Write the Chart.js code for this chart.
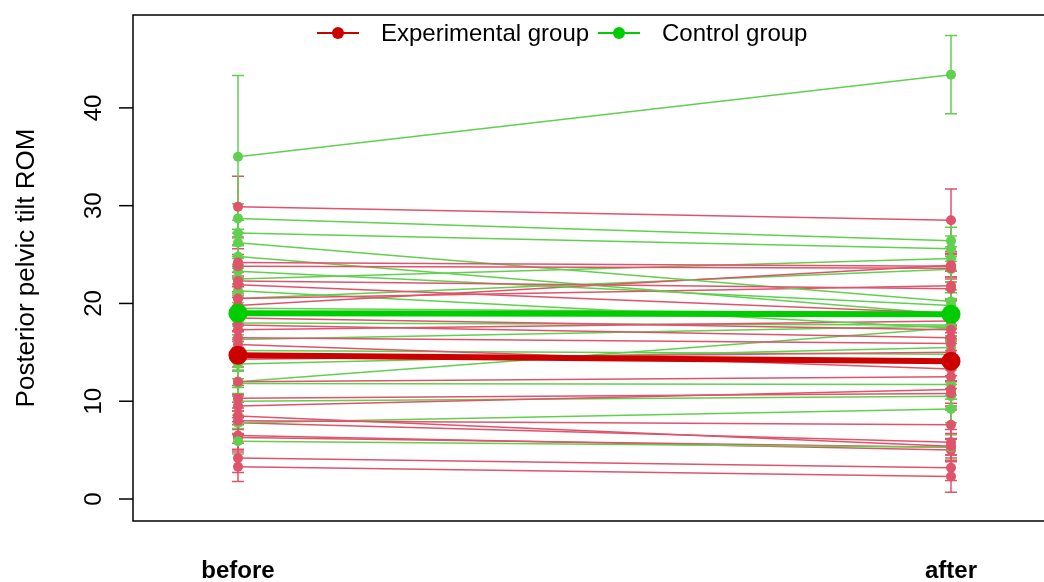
<!DOCTYPE html>
<html>
<head>
<meta charset="utf-8">
<script src="https://cdn.jsdelivr.net/npm/chart.js@4.4.1/dist/chart.umd.min.js"></script>
<style>
  html, body { margin: 0; padding: 0; background: #fff; overflow: hidden; }
  #wrap { width: 1044px; height: 582px; position: relative; }
  canvas { display: block; }
</style>
</head>
<body>
<div id="wrap"><canvas id="plot"></canvas></div>
<script>
// data
const timeLabels = ["before", "after"];
const groupNames = ["Experimental group", "Control group"];

const expBefore = [29.9, 24.2, 23.8, 22.3, 21.9, 20.5, 19.8, 18.5, 17.8, 17.3, 16.5, 15.8, 14.3, 12.0, 10.3, 9.5, 8.5, 8.0, 7.8, 6.5, 6.3, 4.2, 3.3];
const expAfter  = [28.5, 23.8, 23.6, 21.5, 19.0, 21.8, 23.9, 17.3, 16.5, 18.2, 15.9, 13.3, 15.0, 12.5, 10.8, 11.2, 5.4, 7.6, 5.8, 5.0, 5.3, 3.2, 2.3];
const expErrBefore = [3.1, 1.4, 1.2, 1.5, 1.3, 1.2, 1.4, 1.3, 1.5, 1.2, 1.4, 1.3, 1.2, 1.5, 1.3, 1.2, 1.4, 1.3, 1.2, 1.4, 1.3, 1.5, 1.5];
const expErrAfter  = [3.2, 1.3, 1.4, 1.2, 1.3, 1.5, 1.2, 1.4, 1.3, 1.2, 1.5, 1.3, 1.4, 1.2, 1.3, 1.4, 1.2, 1.5, 1.3, 1.2, 1.4, 1.3, 1.6];

const ctrlBefore = [35.0, 28.7, 27.2, 26.2, 24.8, 23.3, 22.5, 21.3, 20.5, 19.5, 18.0, 16.3, 15.2, 13.8, 12.0, 11.8, 10.0, 7.8, 5.9];
const ctrlAfter  = [43.4, 26.4, 25.6, 20.2, 18.9, 19.8, 24.6, 17.5, 23.5, 19.0, 17.8, 17.7, 14.8, 15.5, 17.5, 11.7, 10.5, 9.2, 5.3];
const ctrlErrBefore = [8.3, 1.5, 1.3, 1.4, 1.2, 1.3, 1.5, 1.2, 1.4, 1.3, 1.2, 1.4, 1.3, 1.5, 1.2, 1.3, 1.4, 1.2, 1.3];
const ctrlErrAfter  = [4.0, 1.4, 1.3, 1.2, 1.5, 1.3, 1.2, 1.4, 1.3, 1.5, 1.2, 1.3, 1.4, 1.2, 1.3, 1.5, 1.2, 1.4, 1.3];

const expMean = [14.7, 14.1];
const ctrlMean = [19.0, 18.9];

const yTicks = [0, 10, 20, 30, 40];

const expLine = "#DF536B", ctrlLine = "#61D04F";
const expMeanCol = "#CD0000", ctrlMeanCol = "#00CD00";

function pts(b, a) {
  return [{ x: 1, y: b }, { x: 2, y: a }];
}

let datasets = [];
// means first so they end up on top
datasets.push({ label: "expMean", data: pts(expMean[0], expMean[1]), borderColor: expMeanCol,
  backgroundColor: expMeanCol, borderWidth: 6, pointRadius: 9.5, pointBorderWidth: 0 });
datasets.push({ label: "ctrlMean", data: pts(ctrlMean[0], ctrlMean[1]), borderColor: ctrlMeanCol,
  backgroundColor: ctrlMeanCol, borderWidth: 6, pointRadius: 9.5, pointBorderWidth: 0 });

// interleave the individuals a bit so neither colour sits fully on top
let n = Math.max(expBefore.length, ctrlBefore.length);
for (let i = 0; i < n; i++) {
  if (i < expBefore.length) {
    datasets.push({ label: "exp" + i, data: pts(expBefore[i], expAfter[i]), err: [expErrBefore[i], expErrAfter[i]],
      borderColor: expLine, backgroundColor: expLine, borderWidth: 1.5, pointRadius: 5, pointBorderWidth: 0 });
  }
  if (i < ctrlBefore.length) {
    datasets.push({ label: "ctrl" + i, data: pts(ctrlBefore[i], ctrlAfter[i]), err: [ctrlErrBefore[i], ctrlErrAfter[i]],
      borderColor: ctrlLine, backgroundColor: ctrlLine, borderWidth: 1.5, pointRadius: 5, pointBorderWidth: 0 });
  }
}

const font = "Arial, 'Liberation Sans', sans-serif";

// error bars under the points, R style box, ticks and text
const rStyle = {
  id: "rStyle",
  beforeDatasetsDraw(chart) {
    const c = chart.ctx, y = chart.scales.y;
    c.save();
    c.lineWidth = 1.5;
    chart.data.datasets.forEach((ds, di) => {
      if (!ds.err) return;
      const meta = chart.getDatasetMeta(di);
      meta.data.forEach((p, k) => {
        const v = ds.data[k].y, e = ds.err[k];
        const top = y.getPixelForValue(v + e), bot = y.getPixelForValue(v - e);
        c.strokeStyle = ds.borderColor;
        c.beginPath();
        c.moveTo(p.x, top); c.lineTo(p.x, bot);
        c.moveTo(p.x - 6, top); c.lineTo(p.x + 6, top);
        c.moveTo(p.x - 6, bot); c.lineTo(p.x + 6, bot);
        c.stroke();
      });
    });
    c.restore();
  },
  afterDraw(chart) {
    const c = chart.ctx, a = chart.chartArea, x = chart.scales.x, y = chart.scales.y;
    c.save();
    c.strokeStyle = "#000";
    c.lineWidth = 1.5;
    c.strokeRect(a.left, a.top, a.right - a.left + 40, a.bottom - a.top);

    // y ticks and rotated labels
    c.fillStyle = "#000";
    c.font = "24px " + font;
    c.textAlign = "center";
    c.textBaseline = "middle";
    yTicks.forEach(t => {
      const py = y.getPixelForValue(t);
      c.beginPath();
      c.moveTo(a.left - 14, py); c.lineTo(a.left, py);
      c.stroke();
      c.save();
      c.translate(94, py);
      c.rotate(-Math.PI / 2);
      c.fillText(String(t), 0, 0);
      c.restore();
    });

    // y title
    c.save();
    c.font = "26px " + font;
    c.translate(27, (a.top + a.bottom) / 2);
    c.rotate(-Math.PI / 2);
    c.fillText("Posterior pelvic tilt ROM", 0, 0);
    c.restore();

    // x labels
    c.font = "bold 24px " + font;
    timeLabels.forEach((lab, i) => {
      c.fillText(lab, x.getPixelForValue(i + 1), 571);
    });

    // legend
    c.font = "24px " + font;
    c.textAlign = "left";
    const legendItems = [
      { text: groupNames[0], col: expMeanCol, x0: 317 },
      { text: groupNames[1], col: ctrlMeanCol, x0: 598 }
    ];
    legendItems.forEach(it => {
      c.strokeStyle = it.col;
      c.fillStyle = it.col;
      c.lineWidth = 2;
      c.beginPath();
      c.moveTo(it.x0, 33); c.lineTo(it.x0 + 42, 33);
      c.stroke();
      c.beginPath();
      c.arc(it.x0 + 21, 33, 6, 0, Math.PI * 2);
      c.fill();
      c.fillStyle = "#000";
      c.fillText(it.text, it.x0 + 64, 34);
    });
    c.restore();
  }
};

// x range set so "before" lands at 238px and "after" at 951px
const chart = new Chart(document.getElementById("plot"), {
  type: "line",
  data: { datasets: datasets },
  options: {
    responsive: true,
    maintainAspectRatio: false,
    animation: false,
    layout: { padding: { left: 133, top: 15, right: 0, bottom: 61 } },
    scales: {
      x: { type: "linear", min: 0.8527, max: 2.1304, display: false },
      y: { type: "linear", min: -2.25, max: 49.5, display: false }
    },
    plugins: {
      legend: { display: false },
      tooltip: { enabled: false }
    },
    elements: { line: { tension: 0 } }
  },
  plugins: [rStyle]
});

// fit x range to the real chart area width
const w = chart.chartArea.right - chart.chartArea.left;
const xMin = 1 - 105 / 713;
chart.options.scales.x.min = xMin;
chart.options.scales.x.max = xMin + w / 713;
chart.update();
</script>
</body>
</html>
